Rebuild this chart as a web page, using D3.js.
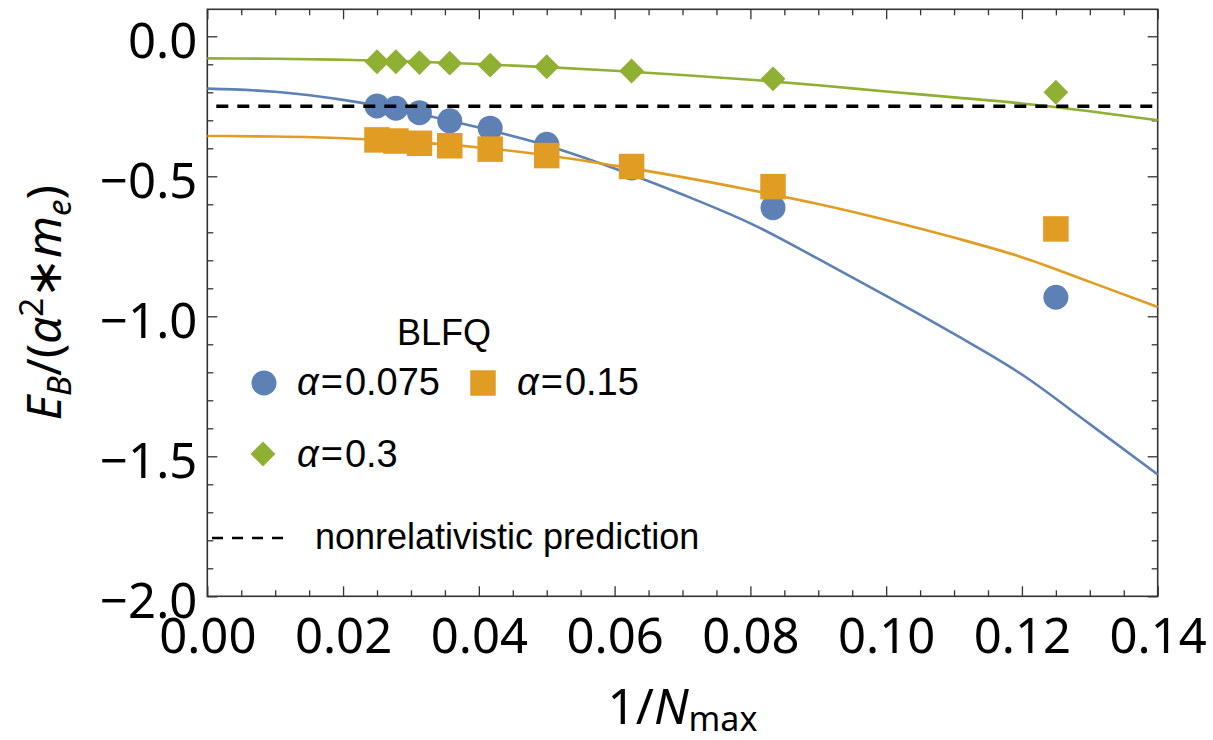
<!DOCTYPE html>
<html>
<head>
<meta charset="utf-8">
<script src="https://cdn.jsdelivr.net/npm/d3@7"></script>
<style>
  body { margin: 0; background: #fff; }
  svg { display: block; }
</style>
</head>
<body>
<svg id="chart" width="1213" height="740"></svg>
<script>
// BLFQ binding energies E_B/(alpha^2 m_e) versus 1/Nmax for three couplings
const nmax = [40, 36, 32, 28, 24, 20, 16, 12, 8];
const invN = nmax.map(n => 1 / n);
const blfq075 = [-0.249, -0.257, -0.273, -0.302, -0.328, -0.386, -0.470, -0.612, -0.932];
const blfq015 = [-0.370, -0.374, -0.382, -0.391, -0.403, -0.426, -0.465, -0.537, -0.688];
const blfq03  = [-0.091, -0.091, -0.094, -0.096, -0.103, -0.109, -0.124, -0.152, -0.200];

// extrapolation curves sampled along 1/Nmax
const fitX   = [0, 0.01, 0.02, 0.03, 0.04, 0.05, 0.06, 0.07, 0.08, 0.09, 0.10, 0.11, 0.12, 0.13, 0.14];
const fit075 = [-0.187, -0.198, -0.227, -0.271, -0.326, -0.390, -0.472, -0.565, -0.668, -0.795, -0.927, -1.063, -1.208, -1.385, -1.565];
const fit015 = [-0.356, -0.358, -0.364, -0.377, -0.397, -0.425, -0.462, -0.503, -0.549, -0.599, -0.656, -0.719, -0.789, -0.877, -0.967];
const fit03  = [-0.079, -0.080, -0.084, -0.090, -0.099, -0.110, -0.123, -0.138, -0.155, -0.175, -0.197, -0.218, -0.240, -0.268, -0.300];

const nonrelativistic = -0.25;

const xTicks = [0, 0.02, 0.04, 0.06, 0.08, 0.10, 0.12, 0.14];
const yTicks = [0, -0.5, -1.0, -1.5, -2.0];

const legendTitle = "BLFQ";
const seriesNames = ["0.075", "0.15", "0.3"];
const refLabel = "nonrelativistic prediction";

const colors = ["#5E81B5", "#E19C24", "#8FB032"];

const svg = d3.select("#chart");
const L = 207.3, R = 1157.7, T = 9.3, B = 596.3;

const x = d3.scaleLinear().domain([0, 0.14]).range([L, R]);
const y = d3.scaleLinear().domain([-2.0, 0.0964]).range([B, T]);

const frameColor = "#333";
const tickFont = "'Noto Sans', sans-serif";

// minor tick positions
const xMinor = d3.range(0, 0.1401, 0.005).filter(v => !xTicks.some(t => Math.abs(t - v) < 1e-9));
const yMinor = d3.range(-2.0, 0.0964, 0.1).filter(v => !yTicks.some(t => Math.abs(t - v) < 1e-9));

function styleAxis(g) {
  g.select(".domain").remove();
  g.selectAll(".tick line").attr("stroke", frameColor).attr("stroke-width", 1.3);
}

// bottom axis: major ticks with labels
svg.append("g").attr("transform", `translate(0,${B})`)
  .call(d3.axisBottom(x).tickValues(xTicks).tickSize(-10).tickFormat(d3.format(".2f")))
  .call(styleAxis)
  .call(g => g.selectAll(".tick text")
    .attr("y", 57).attr("dy", null)
    .attr("font-family", tickFont).attr("font-size", 49).attr("fill", "#000"));
svg.append("g").attr("transform", `translate(0,${B})`)
  .call(d3.axisBottom(x).tickValues(xMinor).tickSize(-6).tickFormat(""))
  .call(styleAxis);

// top axis ticks
svg.append("g").attr("transform", `translate(0,${T})`)
  .call(d3.axisTop(x).tickValues(xTicks).tickSize(-10).tickFormat(""))
  .call(styleAxis);
svg.append("g").attr("transform", `translate(0,${T})`)
  .call(d3.axisTop(x).tickValues(xMinor).tickSize(-6).tickFormat(""))
  .call(styleAxis);

// left axis
svg.append("g").attr("transform", `translate(${L},0)`)
  .call(d3.axisLeft(y).tickValues(yTicks).tickSize(-10).tickFormat(d3.format(".1f")))
  .call(styleAxis)
  .call(g => g.selectAll(".tick text")
    .attr("x", -10).attr("dy", 21)
    .attr("font-family", tickFont).attr("font-size", 49).attr("fill", "#000"));
svg.append("g").attr("transform", `translate(${L},0)`)
  .call(d3.axisLeft(y).tickValues(yMinor).tickSize(-6).tickFormat(""))
  .call(styleAxis);

// right axis ticks
svg.append("g").attr("transform", `translate(${R},0)`)
  .call(d3.axisRight(y).tickValues(yTicks).tickSize(-10).tickFormat(""))
  .call(styleAxis);
svg.append("g").attr("transform", `translate(${R},0)`)
  .call(d3.axisRight(y).tickValues(yMinor).tickSize(-6).tickFormat(""))
  .call(styleAxis);

// frame
svg.append("rect")
  .attr("x", L).attr("y", T).attr("width", R - L).attr("height", B - T)
  .attr("fill", "none").attr("stroke", frameColor).attr("stroke-width", 1.6);

// fitted curves
const fits = [fit075, fit015, fit03];
const line = d3.line().x(d => x(d[0])).y(d => y(d[1])).curve(d3.curveMonotoneX);
const plotArea = svg.append("g");
fits.forEach((vals, i) => {
  plotArea.append("path")
    .datum(fitX.map((xv, k) => [xv, vals[k]]))
    .attr("d", line)
    .attr("fill", "none")
    .attr("stroke", colors[i])
    .attr("stroke-width", 2.6);
});

// markers
const symCircle  = d3.symbol().type(d3.symbolCircle).size(Math.PI * 12.5 * 12.5);
const symSquare  = d3.symbol().type(d3.symbolSquare).size(25.5 * 25.5);
const symDiamond = d3.symbol().type(d3.symbolSquare).size(17.6 * 17.6);
const symbols = [symCircle, symSquare, symDiamond];
const rotations = [0, 0, 45];
const series = [blfq075, blfq015, blfq03];

series.forEach((vals, i) => {
  plotArea.append("g").selectAll("path")
    .data(invN.map((xv, k) => [xv, vals[k]]))
    .join("path")
    .attr("d", symbols[i])
    .attr("transform", d => `translate(${x(d[0])},${y(d[1])}) rotate(${rotations[i]})`)
    .attr("fill", colors[i]);
});

// nonrelativistic reference line
plotArea.append("line")
  .attr("x1", x(0)).attr("x2", x(0.14))
  .attr("y1", y(nonrelativistic)).attr("y2", y(nonrelativistic))
  .attr("stroke", "#000").attr("stroke-width", 3.6)
  .attr("stroke-dasharray", "12,9").attr("stroke-dashoffset", 12);

// legend
const legFont = "'Liberation Sans', Arial, sans-serif";
const leg = svg.append("g").attr("font-family", legFont).attr("font-size", 36).attr("fill", "#000");
leg.append("text").attr("x", 397).attr("y", 345).text(legendTitle);

const legPos = [
  { mx: 264, my: 383, tx: 297, ty: 395 },
  { mx: 483, my: 383, tx: 517, ty: 395 },
  { mx: 263, my: 454, tx: 297, ty: 467 }
];
const legSymbols = [
  d3.symbol().type(d3.symbolCircle).size(Math.PI * 12.5 * 12.5),
  d3.symbol().type(d3.symbolSquare).size(25.5 * 25.5),
  d3.symbol().type(d3.symbolSquare).size(17.6 * 17.6)
];
seriesNames.forEach((name, i) => {
  const p = legPos[i];
  leg.append("path").attr("d", legSymbols[i])
    .attr("transform", `translate(${p.mx},${p.my}) rotate(${rotations[i]})`)
    .attr("fill", colors[i]);
  const t = leg.append("text").attr("x", p.tx).attr("y", p.ty).attr("font-size", 38);
  t.append("tspan").attr("font-style", "italic").text("α");
  t.append("tspan").attr("dx", 2).text("=");
  t.append("tspan").attr("dx", 2).text(name);
});

leg.append("line")
  .attr("x1", 212).attr("x2", 286).attr("y1", 538).attr("y2", 538)
  .attr("stroke", "#000").attr("stroke-width", 2.6)
  .attr("stroke-dasharray", "11,9");
leg.append("text").attr("x", 315).attr("y", 549).text(refLabel);

// axis titles
const xt = svg.append("text")
  .attr("x", (L + R) / 2).attr("y", 724)
  .attr("text-anchor", "middle")
  .attr("font-family", tickFont).attr("font-size", 49).attr("fill", "#000");
xt.append("tspan").text("1/");
xt.append("tspan").attr("font-style", "italic").text("N");
xt.append("tspan").attr("font-size", 34).attr("dy", 7).text("max");

const yt = svg.append("text")
  .attr("transform", `translate(61,${(T + B) / 2}) rotate(-90)`)
  .attr("text-anchor", "middle")
  .attr("font-family", tickFont).attr("font-size", 48).attr("fill", "#000");
yt.append("tspan").attr("font-style", "italic").text("E");
yt.append("tspan").attr("font-style", "italic").attr("font-size", 33).attr("dy", 10).text("B");
yt.append("tspan").attr("dy", -10).text("/(");
yt.append("tspan").attr("font-style", "italic").text("α");
yt.append("tspan").attr("font-size", 33).attr("dy", -18).text("2");
yt.append("tspan").attr("dy", 18).text("∗");
yt.append("tspan").attr("font-style", "italic").text("m");
yt.append("tspan").attr("font-style", "italic").attr("font-size", 33).attr("dy", 10).text("e");
yt.append("tspan").attr("dy", -10).text(")");
</script>
</body>
</html>
